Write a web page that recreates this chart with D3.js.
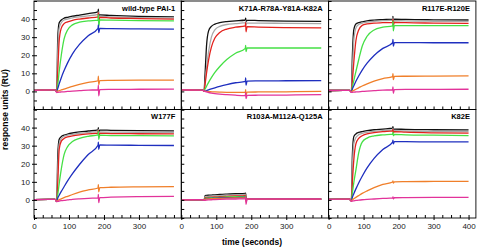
<!DOCTYPE html>
<html>
<head>
<meta charset="utf-8">
<script src="https://cdn.jsdelivr.net/npm/d3@7"></script>
<style>
  body { margin: 0; background: #fff; }
  text { font-family: Arial, "Liberation Sans", sans-serif; }
</style>
</head>
<body>
<script>
// sample times (seconds) shared by every trace
const times = [0, 60, 65, 68, 72, 78, 86, 96, 110, 130, 155, 183, 184, 185, 188, 220, 300, 400]

// trace order inside each panel (highest concentration first)
const traceNames = ["black", "gray", "red", "green", "blue", "orange", "magenta"]

const panelTitles = ["wild-type PAI-1", "K71A-R78A-Y81A-K82A", "R117E-R120E", "W177F", "R103A-M112A-Q125A", "K82E"]

const wildType = [
  [0.6, 0.8, 0, 30, 38, 39.5, 40.5, 41, 41.6, 42.2, 43, 44, 45.5, 42, 42.3, 42, 41.5, 41.2],
  [0.6, 0.8, 0, 22, 35, 38, 39.5, 40, 40.7, 41.2, 41.8, 42.6, 44, 40.5, 41.5, 41.2, 40.8, 40.6],
  [0.6, 0.8, 0, 12, 28, 35, 37.5, 38.5, 39.3, 40, 40.6, 41.2, 43.5, 38.5, 41, 40.6, 40.3, 40],
  [0.6, 0.8, 0, 4, 11, 20, 29, 34, 36.8, 38.3, 39, 39.4, 42.5, 36, 39.5, 39.4, 39.2, 39],
  [0.6, 0.8, 0, 1.7, 4.2, 7.6, 11.5, 15.8, 20.8, 26, 30.8, 34.8, 36.8, 32.5, 34.8, 34.7, 34.6, 34.5],
  [0.6, 0.8, 0, 0.2, 0.4, 0.8, 1.3, 1.9, 2.8, 3.9, 5, 5.9, 8.5, 3.8, 6, 6.1, 6.2, 6.2],
  [0.6, 0.8, -0.6, -0.5, -0.4, -0.3, -0.2, 0, 0.2, 0.4, 0.7, 0.9, 3.5, -2.5, 1, 1.1, 1.2, 1.3]
]

const k71aQuad = [
  [0.8, 0.7, 0.2, 10, 25, 33.5, 36, 37.2, 38, 38.6, 39, 39.5, 40.5, 38.5, 39.3, 39.2, 38.9, 38.7],
  [0.8, 0.7, 0.2, 5, 13, 22, 30, 34, 36, 37, 37.5, 38, 39, 37, 37.8, 37.8, 37.6, 37.5],
  [0.8, 0.7, 0.2, 4, 10, 17.5, 24.5, 29.5, 32.6, 34.5, 35.5, 36.2, 38, 33, 35.8, 35.6, 35.3, 35.1],
  [0.8, 0.7, 0.2, 1.3, 2.8, 5, 7.6, 10.5, 13.8, 17.6, 21.1, 23.8, 25.5, 22, 24, 24, 24, 24],
  [0.8, 0.7, 0.2, 0.3, 0.5, 0.9, 1.4, 2, 2.8, 3.8, 4.8, 5.5, 7.5, 3.5, 5.7, 5.8, 5.9, 6],
  [0.8, 0.7, 0.2, 0.1, 0, -0.1, -0.2, -0.3, -0.4, -0.5, -0.5, -0.5, 1, -2, -0.4, -0.3, -0.2, 0],
  [0.8, 0.7, 0.2, 0, -0.3, -0.6, -0.9, -1.2, -1.5, -1.8, -2.1, -2.3, -0.5, -4, -2.2, -2.1, -2, -1.8]
]

const r117eR120e = [
  [0.5, 0.6, -0.3, 20, 34, 37.3, 38, 38.5, 39, 39.4, 39.7, 40, 41.5, 38.5, 40, 39.8, 39.6, 39.5],
  [0.5, 0.6, -0.3, 12, 28, 35, 37, 37.8, 38.3, 38.8, 39.1, 39.4, 40.8, 38, 39.2, 39, 38.8, 38.7],
  [0.5, 0.6, -0.3, 6, 16, 28, 34, 36.5, 37.3, 37.8, 38, 38.2, 40, 36.5, 38.2, 38, 37.8, 37.6],
  [0.5, 0.6, -0.3, 2.5, 6, 11, 17.5, 25, 30.5, 34, 35.5, 36.3, 39, 33.5, 36.4, 36.4, 36.4, 36.4],
  [0.5, 0.6, -0.3, 1.4, 3.1, 5.6, 8.5, 11.8, 15.6, 19.9, 23.8, 26.9, 28.8, 25, 27, 27, 26.9, 26.9],
  [0.5, 0.6, -0.3, 0.2, 0.6, 1.2, 2, 3, 4.2, 5.7, 7.1, 8.2, 9.8, 6.5, 8.3, 8.4, 8.5, 8.6],
  [0.5, 0.6, -0.5, -0.5, -0.4, -0.3, -0.2, 0, 0.2, 0.4, 0.7, 0.9, 2.5, -1, 1, 1.1, 1.1, 1.2]
]

const w177f = [
  [0.2, 0.3, -0.8, 25, 33.5, 35, 35.8, 36.4, 37, 37.6, 38.1, 38.7, 40, 37, 38.6, 38.5, 38.3, 38.2],
  [0.2, 0.3, -0.8, 18, 31, 34, 35.2, 35.8, 36.3, 36.8, 37.3, 37.8, 39, 36, 37.6, 37.5, 37.3, 37.2],
  [0.2, 0.3, -0.8, 10, 28, 32.5, 34, 34.8, 35.4, 36, 36.5, 36.9, 38.5, 35, 36.8, 36.7, 36.6, 36.5],
  [0.2, 0.3, -0.8, 3, 9, 17, 25, 29.5, 32.3, 34, 35.2, 36, 38, 33.5, 35.8, 35.6, 35.5, 35.4],
  [0.2, 0.3, -0.8, 1.1, 2.6, 4.7, 7.3, 10.5, 14.5, 19.6, 25.1, 30.2, 32, 28, 30.4, 30.3, 30.2, 30.1],
  [0.2, 0.3, -0.8, -0.3, 0.1, 0.6, 1.3, 2, 3, 4.3, 5.5, 6.6, 8.5, 4.5, 6.8, 7, 7.2, 7.3],
  [0.2, 0.3, -1, -0.8, -0.6, -0.4, -0.2, 0, 0.3, 0.6, 0.9, 1.1, 3, -1.5, 1.3, 1.5, 1.8, 2]
]

const r103aTriple = [
  [0, 0.1, 0, 2.4, 2.5, 2.6, 2.7, 2.8, 3, 3.2, 3.4, 3.6, 3.8, 0.5, 0.6, 0.5, 0.4, 0.4],
  [0, 0.1, 0, 1.8, 1.9, 2, 2.1, 2.2, 2.4, 2.6, 2.8, 3, 3.2, 0.3, 0.5, 0.5, 0.4, 0.4],
  [0, 0.1, 0, 1.2, 1.3, 1.4, 1.5, 1.6, 1.8, 2, 2.2, 2.4, 2.6, 0.2, 0.5, 0.5, 0.4, 0.4],
  [0, 0.1, 0, 0.9, 1, 1.1, 1.2, 1.3, 1.4, 1.6, 1.8, 1.9, 2.2, 0, 0.5, 0.5, 0.4, 0.4],
  [0, 0.1, 0, 0.6, 0.7, 0.8, 0.9, 1, 1.1, 1.2, 1.3, 1.4, 1.8, -0.5, 0.5, 0.4, 0.4, 0.4],
  [0, 0.1, 0, 0.4, 0.5, 0.6, 0.7, 0.8, 0.9, 1, 1.1, 1.2, 1.6, -1, 0.5, 0.4, 0.4, 0.4],
  [0, 0.1, -0.3, -0.2, -0.1, 0, 0.1, 0.2, 0.3, 0.4, 0.5, 0.6, 1.5, -2.5, 0.5, 0.5, 0.5, 0.5]
]

const k82e = [
  [0.3, 0.4, -0.5, 25, 35, 36.5, 37.3, 37.8, 38.3, 38.8, 39.2, 39.7, 40.5, 38.8, 39.2, 39, 38.8, 38.7],
  [0.3, 0.4, -0.5, 18, 31, 34.5, 36, 36.8, 37.4, 37.9, 38.3, 38.7, 39.5, 37.8, 38.3, 38.1, 37.9, 37.8],
  [0.3, 0.4, -0.5, 10, 22, 31, 34, 35.5, 36.5, 37.2, 37.8, 38.2, 39, 37.2, 37.8, 37.5, 37.1, 36.9],
  [0.3, 0.4, -0.5, 4, 9.5, 16.5, 26, 32, 34.2, 35.4, 36, 36.4, 37.5, 35.5, 36.2, 36, 35.8, 35.6],
  [0.3, 0.4, -0.5, 1.5, 3.4, 6.1, 9.4, 13.1, 17.7, 23, 27.9, 32, 33, 31, 32.2, 32.2, 32.1, 32.1],
  [0.3, 0.4, -0.5, 0.1, 0.6, 1.4, 2.4, 3.6, 5, 6.8, 8.6, 9.9, 10.5, 9.3, 10, 10.1, 10.2, 10.3],
  [0.3, 0.4, -0.8, -0.6, -0.5, -0.3, -0.1, 0.1, 0.3, 0.5, 0.8, 1.1, 1.6, 0.6, 1.2, 1.3, 1.4, 1.4]
]

const yTicks = [0, 10, 20, 30, 40]
const xTicks = [0, 100, 200, 300, 400]

const panelData = [wildType, k71aQuad, r117eR120e, w177f, r103aTriple, k82e]

const traceColors = {
  black: "#111111", gray: "#a9a9a9", red: "#e3211c", green: "#45e045",
  blue: "#1f2fbf", orange: "#f07f2a", magenta: "#e2339a"
}

let width = 477
let height = 247
let marginLeft = 34
let marginTop = 1
let panelW = 147.3
let panelH = 108.5

const svg = d3.select("body")
  .append("svg")
  .attr("width", width)
  .attr("height", height)

const x = d3.scaleLinear().domain([0, 421]).range([0, panelW])
const y = d3.scaleLinear().domain([-10, 50]).range([panelH, 0])

const line = d3.line()
  .x((d, i) => x(times[i]))
  .y(d => y(d))
  .curve(d3.curveMonotoneX)

svg.append("defs").append("clipPath")
  .attr("id", "panel-clip")
  .append("rect")
  .attr("width", panelW)
  .attr("height", panelH)

panelData.forEach((traces, i) => {
  let col = i % 3
  let row = Math.floor(i / 3)
  const g = svg.append("g")
    .attr("transform", `translate(${marginLeft + col * panelW}, ${marginTop + row * panelH})`)

  g.append("g")
    .attr("clip-path", "url(#panel-clip)")
    .selectAll("path")
    .data(traces)
    .enter().append("path")
    .attr("d", line)
    .attr("fill", "none")
    .attr("stroke", (d, k) => traceColors[traceNames[k]])
    .attr("stroke-width", 1.3)
    .attr("stroke-linejoin", "round")

  // inward minor ticks
  g.append("g")
    .call(d3.axisRight(y).tickValues(d3.range(-10, 51, 5)).tickSize(3).tickFormat(""))
    .call(a => a.select(".domain").remove())
  g.append("g")
    .attr("transform", `translate(0, ${panelH})`)
    .call(d3.axisTop(x).tickValues(d3.range(0, 421, 25)).tickSize(3).tickFormat(""))
    .call(a => a.select(".domain").remove())

  if (col == 0) {
    g.append("g")
      .call(d3.axisLeft(y).tickValues(yTicks).tickSize(2).tickPadding(2))
      .call(a => a.select(".domain").remove())
      .attr("font-size", "8px")
      .attr("font-family", null)
      .call(a => a.selectAll("text").attr("fill", "#222"))
  }
  if (row == 1) {
    g.append("g")
      .attr("transform", `translate(0, ${panelH})`)
      .call(d3.axisBottom(x).tickValues(col == 2 ? xTicks : xTicks.slice(0, 4)).tickSize(2).tickPadding(3))
      .call(a => a.select(".domain").remove())
      .attr("font-size", "8px")
      .attr("font-family", null)
      .call(a => a.selectAll("text").attr("fill", "#222"))
  }

  g.append("rect")
    .attr("width", panelW)
    .attr("height", panelH)
    .attr("fill", "none")
    .attr("stroke", "#000")
    .attr("stroke-width", 0.9)

  g.append("text")
    .attr("x", panelW - 6)
    .attr("y", 9.5)
    .attr("text-anchor", "end")
    .attr("font-size", "7.5px")
    .attr("font-weight", "bold")
    .text(panelTitles[i])
})

svg.append("text")
  .attr("transform", `translate(8, ${marginTop + panelH}) rotate(-90)`)
  .attr("text-anchor", "middle")
  .attr("font-size", "8.5px")
  .attr("font-weight", "bold")
  .text("response units (RU)")

svg.append("text")
  .attr("x", 252)
  .attr("y", 245)
  .attr("text-anchor", "middle")
  .attr("font-size", "8.5px")
  .attr("font-weight", "bold")
  .text("time (seconds)")
</script>
</body>
</html>
